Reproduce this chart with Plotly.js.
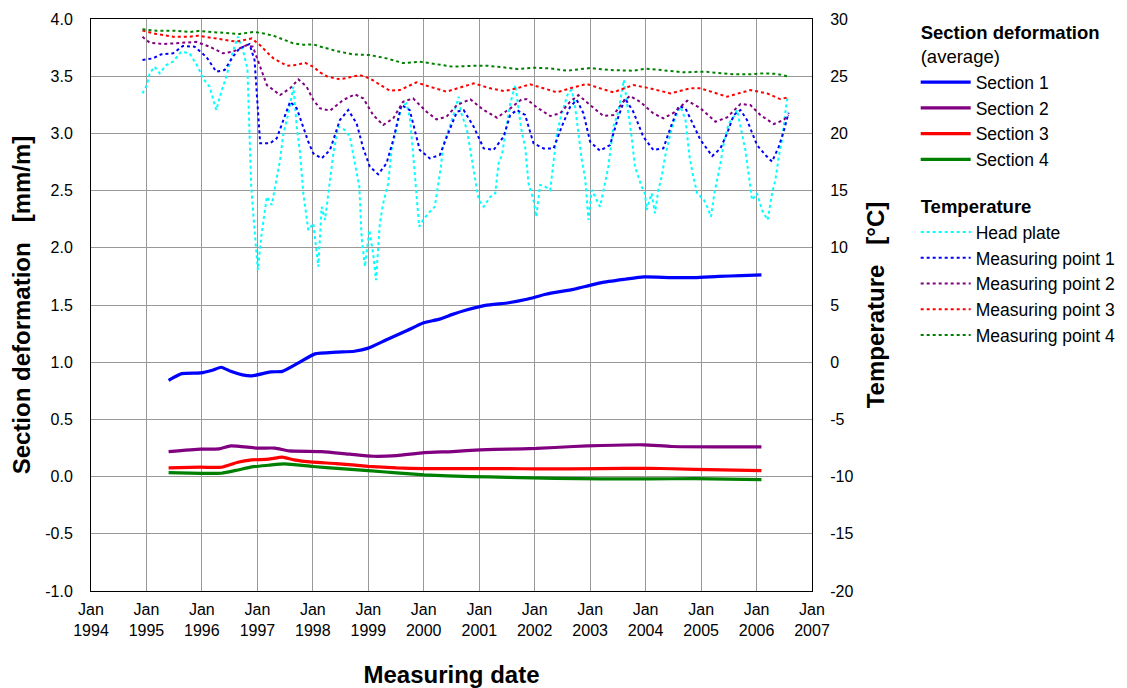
<!DOCTYPE html>
<html>
<head>
<meta charset="utf-8">
<script src="https://cdn.plot.ly/plotly-3.0.1.min.js"></script>
<style>html,body{margin:0;padding:0;background:#fff;}#chart{width:1127px;height:688px;}</style>
</head>
<body>
<div id="chart"></div>
<script>
// ---- Section deformation (average) [mm/m], x in decimal years ----
const sectionYears = [1995.40,1995.64,1995.98,1996.19,1996.35,1996.52,1996.73,1996.90,1997.24,1997.45,1997.74,1998.04,1998.42,1998.75,1999.00,1999.34,1999.68,2000.00,2000.27,2000.52,2000.77,2001.11,2001.53,2001.86,2002.20,2002.70,2002.96,2003.21,2003.63,2003.97,2004.47,2004.89,2005.31,2005.73,2006.09];
const section1 = [0.842,0.900,0.906,0.930,0.956,0.920,0.889,0.880,0.915,0.920,0.994,1.073,1.088,1.096,1.123,1.199,1.272,1.345,1.374,1.418,1.456,1.497,1.520,1.550,1.594,1.637,1.667,1.696,1.725,1.746,1.740,1.740,1.750,1.757,1.763];

const section2Years = [1995.40,1995.98,1996.31,1996.52,1996.99,1997.32,1997.57,1998.16,1998.67,1999.09,1999.51,2000.01,2000.52,2001.02,2001.53,2002.03,2002.70,2003.21,2003.97,2004.47,2005.31,2006.09];
const section2 = [0.219,0.240,0.243,0.269,0.249,0.249,0.225,0.219,0.196,0.178,0.184,0.210,0.219,0.234,0.240,0.246,0.263,0.272,0.278,0.263,0.260,0.260];

const section3Years = [1995.40,1995.98,1996.35,1996.65,1996.90,1997.20,1997.45,1997.66,1998.00,1998.42,1999.00,1999.51,2000.01,2000.69,2001.53,2002.03,2003.21,2004.05,2004.89,2006.09];
const section3 = [0.076,0.082,0.082,0.126,0.146,0.152,0.170,0.146,0.126,0.114,0.090,0.076,0.070,0.070,0.070,0.067,0.070,0.073,0.064,0.053];

const section4Years = [1995.40,1995.98,1996.35,1996.65,1996.90,1997.20,1997.49,1998.00,1998.50,1999.00,1999.51,2000.01,2000.85,2001.53,2002.37,2003.21,2004.05,2004.89,2006.09];
const section4 = [0.035,0.029,0.029,0.058,0.085,0.099,0.111,0.088,0.070,0.053,0.032,0.015,0.000,-0.006,-0.015,-0.020,-0.020,-0.018,-0.026];

// ---- Temperature [°C] ----
const headPlateYears = [1994.93,1995.01,1995.06,1995.15,1995.24,1995.36,1995.48,1995.63,1995.78,1995.93,1996.02,1996.14,1996.26,1996.35,1996.44,1996.56,1996.65,1996.74,1996.82,1996.84,1996.89,1996.95,1997.01,1997.07,1997.17,1997.26,1997.35,1997.41,1997.47,1997.56,1997.65,1997.71,1997.77,1997.83,1997.92,1998.01,1998.10,1998.16,1998.22,1998.28,1998.37,1998.46,1998.58,1998.67,1998.76,1998.84,1998.88,1998.94,1999.02,1999.09,1999.14,1999.21,1999.27,1999.36,1999.42,1999.51,1999.60,1999.69,1999.75,1999.81,1999.87,1999.92,1999.99,2000.08,2000.20,2000.31,2000.35,2000.44,2000.53,2000.63,2000.68,2000.78,2000.87,2000.93,2000.99,2001.08,2001.20,2001.29,2001.35,2001.41,2001.47,2001.56,2001.65,2001.71,2001.77,2001.83,2001.89,2001.98,2002.03,2002.10,2002.19,2002.28,2002.34,2002.40,2002.49,2002.61,2002.67,2002.73,2002.79,2002.85,2002.91,2002.95,2002.97,2003.03,2003.12,2003.18,2003.27,2003.33,2003.42,2003.51,2003.61,2003.69,2003.75,2003.81,2003.87,2003.93,2003.99,2004.02,2004.11,2004.17,2004.23,2004.29,2004.35,2004.45,2004.54,2004.63,2004.72,2004.79,2004.86,2004.93,2004.99,2005.05,2005.11,2005.18,2005.24,2005.29,2005.35,2005.42,2005.50,2005.59,2005.65,2005.71,2005.80,2005.88,2005.92,2006.01,2006.10,2006.20,2006.28,2006.34,2006.40,2006.46,2006.52,2006.55,2006.58];
const headPlate = [23.5,24.23,25.25,25.83,25.25,25.98,26.27,27.14,27.0,25.83,24.81,24.08,22.04,23.64,24.96,27.14,28.45,27.3,25.68,22.9,15.34,11.55,8.06,10.97,14.47,13.74,15.92,17.67,20.0,21.75,24.08,20.59,18.25,14.76,11.55,12.14,8.35,13.59,12.43,14.61,18.25,20.59,20.3,19.71,17.38,15.34,10.97,8.35,11.55,9.51,7.18,12.14,13.88,15.63,18.55,20.59,22.33,22.62,21.46,18.25,14.47,11.84,12.43,13.01,13.59,17.09,18.98,20.3,21.46,23.21,21.75,20.3,17.67,15.92,14.18,13.59,14.47,14.76,17.38,18.11,20.0,22.62,24.23,22.04,20.0,18.84,15.63,14.18,12.72,15.49,15.34,15.05,17.67,20.0,21.75,23.64,23.79,22.33,20.0,17.67,16.07,13.59,12.43,15.05,14.18,13.59,15.63,17.09,20.59,21.9,24.67,21.9,19.71,17.09,16.22,15.34,14.76,13.3,14.76,13.01,15.05,16.22,17.96,20.0,21.46,22.33,21.17,18.0,16.22,14.76,14.47,14.18,13.59,12.72,14.76,15.92,17.38,19.42,20.88,21.46,22.04,20.59,18.55,15.63,14.18,14.76,13.3,12.43,14.76,15.92,17.96,19.42,22.04,22.91,23.15];

const mp1Years = [1994.93,1995.12,1995.27,1995.48,1995.66,1995.87,1996.08,1996.26,1996.41,1996.56,1996.68,1996.86,1996.95,1997.01,1997.05,1997.23,1997.35,1997.47,1997.59,1997.71,1997.83,1997.92,1998.01,1998.16,1998.31,1998.49,1998.64,1998.79,1998.91,1999.03,1999.18,1999.33,1999.45,1999.60,1999.75,1999.93,2000.11,2000.29,2000.44,2000.60,2000.72,2000.90,2001.08,2001.26,2001.44,2001.56,2001.68,2001.83,2001.98,2002.16,2002.34,2002.49,2002.64,2002.76,2002.88,2003.00,2003.18,2003.36,2003.51,2003.63,2003.78,2003.96,2004.14,2004.32,2004.45,2004.60,2004.72,2004.87,2004.99,2005.20,2005.35,2005.47,2005.59,2005.71,2005.83,2006.01,2006.16,2006.28,2006.40,2006.49,2006.58];
const mp1 = [26.41,26.56,26.91,27.0,27.64,27.58,26.7,25.39,25.54,26.7,27.43,27.81,26.41,22.04,19.13,19.13,19.57,21.17,22.77,22.19,20.59,19.27,18.25,17.82,18.55,21.17,22.04,20.88,18.69,17.09,16.42,17.38,19.42,22.48,22.04,18.55,17.82,18.11,20.0,21.9,22.04,20.59,18.69,18.55,19.71,21.61,22.04,21.61,19.13,18.69,18.69,20.59,22.33,22.92,21.75,19.27,18.49,18.98,21.46,23.06,21.9,19.71,18.55,18.69,20.5,22.39,22.19,20.59,19.42,18.02,18.69,20.0,21.61,22.04,21.17,18.98,18.11,17.53,18.84,20.15,21.81];

const mp2Years = [1994.93,1995.06,1995.30,1995.66,1995.90,1996.14,1996.38,1996.56,1996.80,1996.92,1997.05,1997.17,1997.41,1997.59,1997.74,1997.89,1998.01,1998.13,1998.31,1998.55,1998.76,1998.91,1999.09,1999.27,1999.45,1999.63,1999.81,2000.05,2000.23,2000.41,2000.60,2000.84,2001.08,2001.32,2001.56,2001.77,2001.86,2002.04,2002.28,2002.46,2002.64,2002.79,2003.00,2003.24,2003.42,2003.60,2003.72,2003.90,2004.14,2004.32,2004.51,2004.75,2004.99,2005.26,2005.47,2005.71,2005.89,2006.07,2006.31,2006.49,2006.58];
const mp2 = [28.45,27.93,27.81,27.93,28.0,27.58,27.0,27.14,27.7,27.58,25.83,24.23,23.35,23.94,24.72,24.08,22.92,22.19,21.99,22.92,23.41,23.06,21.61,20.73,21.31,22.77,23.06,21.9,21.23,21.46,22.48,22.98,22.04,21.37,22.19,23.0,22.98,22.28,21.52,21.75,22.77,23.35,22.48,21.52,21.61,22.77,23.27,22.77,21.75,21.32,21.81,22.86,22.19,21.02,21.4,22.57,22.48,21.61,20.82,21.17,21.61];

const mp3Years = [1994.93,1995.18,1995.48,1995.78,1995.93,1996.26,1996.62,1996.90,1997.05,1997.17,1997.29,1997.53,1997.71,1997.86,1998.01,1998.13,1998.25,1998.49,1998.85,1999.03,1999.39,1999.57,1999.87,2000.11,2000.41,2000.65,2000.90,2001.20,2001.45,2001.68,2001.92,2002.16,2002.40,2002.64,2002.94,2003.18,2003.42,2003.78,2004.08,2004.45,2004.81,2004.99,2005.20,2005.47,2005.89,2006.19,2006.43,2006.58];
const mp3 = [29.0,28.69,28.45,28.45,28.54,28.3,28.02,28.3,27.7,27.1,26.56,25.92,25.98,26.18,25.83,25.34,25.0,24.72,25.1,24.8,23.73,23.79,24.46,24.08,23.65,24.0,24.37,23.94,23.7,23.94,24.29,23.94,23.59,23.94,24.32,23.94,23.59,24.23,23.94,23.5,23.94,23.94,23.6,23.21,23.79,23.5,23.0,23.15];

const mp4Years = [1994.93,1995.18,1995.48,1995.78,1995.93,1996.38,1996.68,1996.92,1997.05,1997.29,1997.47,1997.65,1997.83,1998.01,1998.13,1998.43,1998.73,1999.03,1999.33,1999.48,1999.63,1999.93,2000.23,2000.53,2000.84,2001.14,2001.50,2001.68,2001.98,2002.28,2002.58,2003.00,2003.36,2003.78,2004.02,2004.39,2004.69,2005.05,2005.35,2005.59,2005.89,2006.13,2006.37,2006.58];
const mp4 = [29.1,28.98,28.98,28.86,28.95,28.8,28.69,28.86,28.8,28.54,28.22,27.87,27.75,27.78,27.6,27.2,26.9,26.85,26.56,26.35,26.15,26.27,26.07,25.83,25.9,25.92,25.74,25.63,25.74,25.68,25.48,25.71,25.54,25.48,25.66,25.48,25.34,25.4,25.3,25.16,25.16,25.25,25.2,24.96];

// ---- Tick labels ----
const leftTickVals = [-1, -0.5, 0, 0.5, 1, 1.5, 2, 2.5, 3, 3.5, 4];
const leftTickText = ['-1.0', '-0.5', '0.0', '0.5', '1.0', '1.5', '2.0', '2.5', '3.0', '3.5', '4.0'];
const rightTickVals = [-20, -15, -10, -5, 0, 5, 10, 15, 20, 25, 30];
const rightTickText = ['-20', '-15', '-10', '-5', '0', '5', '10', '15', '20', '25', '30'];

// decimal year -> ISO date string
function toDate(y) {
  const yr = Math.floor(y);
  const s = Date.UTC(yr, 0, 1), e = Date.UTC(yr + 1, 0, 1);
  return new Date(s + (y - yr) * (e - s)).toISOString().slice(0, 10);
}
const d = a => a.map(toDate);

const FONT = 'Arial, "Liberation Sans", sans-serif';
const solid = (name, xs, ys, color, extra) => Object.assign({
  type: 'scatter', mode: 'lines', name, x: d(xs), y: ys,
  line: {color, width: 3.2, shape: 'spline', smoothing: 0.5},
  legendgroup: 'sec', yaxis: 'y'
}, extra || {});
const dotted = (name, xs, ys, color, extra) => Object.assign({
  type: 'scatter', mode: 'lines', name, x: d(xs), y: ys,
  line: {color, width: 2, dash: '3px,3px'},
  legendgroup: 'temp', yaxis: 'y2'
}, extra || {});

const GT = 18.5; // legend group title size
const data = [
  solid('Section 1', sectionYears, section1, '#0000FF',
        {legendgrouptitle: {text: '<b>Section deformation</b><br>(average)', font: {size: GT, family: FONT, color: '#000'}}}),
  solid('Section 2', section2Years, section2, '#800080'),
  solid('Section 3', section3Years, section3, '#FF0000'),
  solid('Section 4', section4Years, section4, '#008000'),
  dotted('Head plate', headPlateYears, headPlate, '#00FFFF',
        {legendgrouptitle: {text: '<b>Temperature</b>', font: {size: GT, family: FONT, color: '#000'}}}),
  dotted('Measuring point 1', mp1Years, mp1, '#0000FF'),
  dotted('Measuring point 2', mp2Years, mp2, '#800080'),
  dotted('Measuring point 3', mp3Years, mp3, '#FF0000'),
  dotted('Measuring point 4', mp4Years, mp4, '#008000')
];

const GRID = '#999999';
const layout = {
  width: 1127, height: 688,
  margin: {l: 91, r: 315, t: 19, b: 97, pad: 0},
  paper_bgcolor: '#fff', plot_bgcolor: '#fff',
  font: {family: FONT, size: 16, color: '#000'},
  showlegend: true,
  legend: {
    xref: 'container', yref: 'container', x: 0.8125, y: 0.981,
    xanchor: 'left', yanchor: 'top', traceorder: 'grouped',
    tracegroupgap: 20, font: {family: FONT, size: 17.5, color: '#000'},
    bgcolor: 'rgba(0,0,0,0)', itemwidth: 50
  },
  xaxis: {
    type: 'date', range: ['1994-01-01', '2007-01-01'],
    tick0: '1994-01-01', dtick: 'M12', tickformat: '%b<br>%Y',
    showgrid: true, gridcolor: GRID, gridwidth: 1,
    showline: true, linecolor: '#000', linewidth: 1, mirror: true,
    ticks: '', ticklabelstandoff: 4,
    tickfont: {family: FONT, size: 16},
    title: {text: '<b>Measuring date</b>', font: {family: FONT, size: 24}, standoff: 29}
  },
  yaxis: {
    range: [-1, 4], tickmode: 'array', tickvals: leftTickVals, ticktext: leftTickText,
    showgrid: true, gridcolor: GRID, gridwidth: 1, zeroline: false,
    showline: true, linecolor: '#000', linewidth: 1,
    ticks: '', ticklabelstandoff: 14,
    tickfont: {family: FONT, size: 16},
    title: {text: '<b>Section deformation&nbsp;&nbsp; [mm/m]</b>', font: {family: FONT, size: 24}, standoff: 7}
  },
  yaxis2: {
    overlaying: 'y', side: 'right', range: [-20, 30],
    tickmode: 'array', tickvals: rightTickVals, ticktext: rightTickText,
    showgrid: false, zeroline: false,
    showline: true, linecolor: '#000', linewidth: 1,
    ticks: '', ticklabelstandoff: 14,
    tickfont: {family: FONT, size: 16},
    title: {text: '<b>Temperature&nbsp;&nbsp; [°C]</b>', font: {family: FONT, size: 24}, standoff: 14}
  }
};

Plotly.newPlot('chart', data, layout, {displayModeBar: false, staticPlot: true});
</script>
</body>
</html>
